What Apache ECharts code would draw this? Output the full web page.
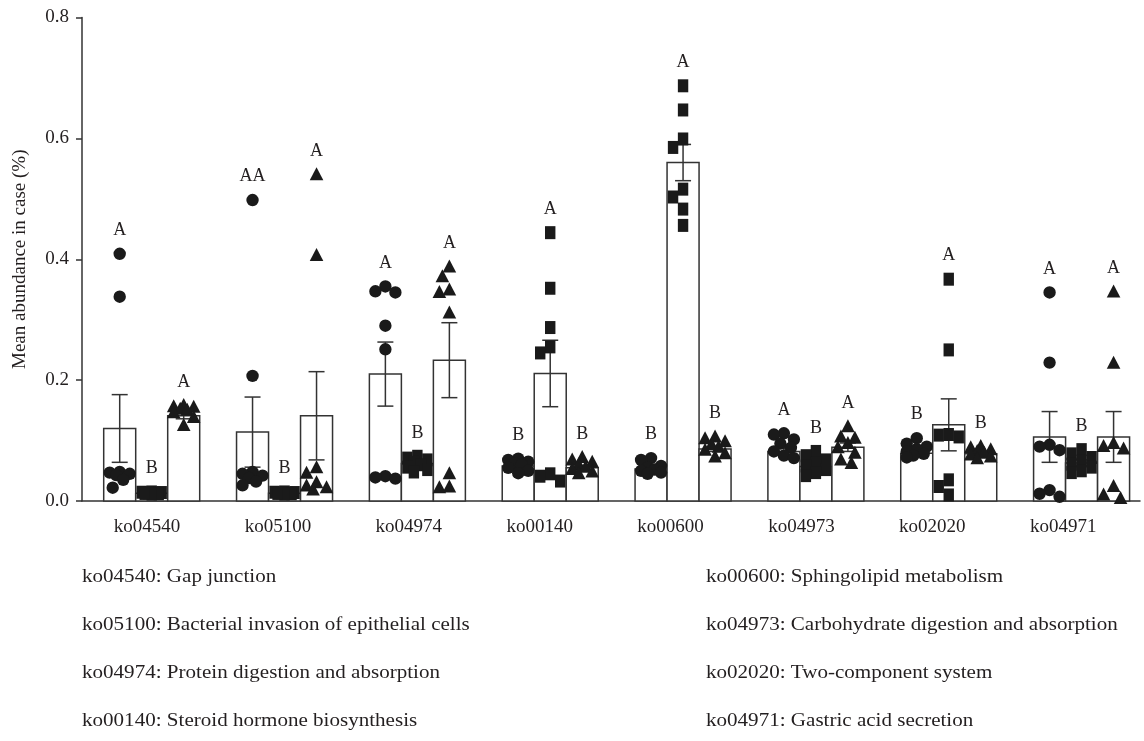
<!DOCTYPE html>
<html><head><meta charset="utf-8">
<script src="https://cdn.jsdelivr.net/npm/echarts@6/dist/echarts.min.js"></script>
<style>html,body{margin:0;padding:0;background:#fff}#c{width:1144px;height:741px}</style>
</head><body><div id="c"></div>
<script>
// ---------- data ----------
const categories = ['ko04540','ko05100','ko04974','ko00140','ko00600','ko04973','ko02020','ko04971'];

const circleMean = [0.120, 0.114, 0.210, 0.058, 0.053, 0.082, 0.079, 0.106];
const circleSem  = [0.056, 0.058, 0.053, 0.004, 0.003, 0.005, 0.004, 0.042];
const squareMean = [0.013, 0.013, 0.062, 0.211, 0.560, 0.057, 0.126, 0.063];
const squareSem  = [0.001, 0.001, 0.003, 0.055, 0.030, 0.005, 0.043, 0.005];
const triangleMean = [0.141, 0.141, 0.233, 0.055, 0.086, 0.089, 0.078, 0.106];
const triangleSem  = [0.005, 0.073, 0.062, 0.004, 0.004, 0.007, 0.003, 0.042];

const circlePoints = [
  [0.409, 0.338, 0.048, 0.047, 0.045, 0.043, 0.035, 0.022],
  [0.498, 0.207, 0.048, 0.045, 0.042, 0.038, 0.032, 0.026],
  [0.355, 0.347, 0.345, 0.290, 0.251, 0.041, 0.039, 0.037],
  [0.070, 0.068, 0.065, 0.062, 0.060, 0.055, 0.050, 0.046],
  [0.071, 0.068, 0.058, 0.055, 0.052, 0.050, 0.047, 0.045],
  [0.112, 0.110, 0.102, 0.095, 0.088, 0.082, 0.075, 0.071],
  [0.104, 0.095, 0.090, 0.086, 0.082, 0.078, 0.075, 0.072],
  [0.345, 0.229, 0.093, 0.090, 0.084, 0.018, 0.012, 0.007]
];
const squarePoints = [
  [0.015, 0.014, 0.0145, 0.013, 0.012, 0.0135, 0.0115, 0.0125],
  [0.015, 0.014, 0.0145, 0.013, 0.012, 0.0135, 0.0115, 0.0125],
  [0.074, 0.071, 0.068, 0.064, 0.060, 0.056, 0.052, 0.048],
  [0.444, 0.352, 0.287, 0.255, 0.245, 0.045, 0.041, 0.033],
  [0.687, 0.647, 0.599, 0.585, 0.516, 0.503, 0.483, 0.456],
  [0.082, 0.075, 0.068, 0.063, 0.058, 0.052, 0.047, 0.042],
  [0.367, 0.250, 0.110, 0.109, 0.106, 0.035, 0.024, 0.010],
  [0.085, 0.078, 0.072, 0.066, 0.061, 0.056, 0.050, 0.047]
];
const trianglePoints = [
  [0.158, 0.156, 0.155, 0.152, 0.150, 0.146, 0.138, 0.125],
  [0.540, 0.406, 0.055, 0.046, 0.030, 0.025, 0.022, 0.018],
  [0.387, 0.371, 0.349, 0.345, 0.311, 0.045, 0.023, 0.022],
  [0.072, 0.068, 0.064, 0.060, 0.056, 0.052, 0.048, 0.045],
  [0.106, 0.103, 0.098, 0.093, 0.089, 0.084, 0.078, 0.073],
  [0.123, 0.106, 0.104, 0.095, 0.088, 0.079, 0.068, 0.062],
  [0.090, 0.088, 0.085, 0.082, 0.079, 0.076, 0.073, 0.070],
  [0.346, 0.228, 0.095, 0.090, 0.086, 0.024, 0.010, 0.004]
];

const circleLetters   = ['A','AA','A','B','B','A','B','A'];
const squareLetters   = ['B','B','B','A','A','B','A','B'];
const triangleLetters = ['A','A','A','B','B','A','B','A'];

const yTicks = [0, 0.2, 0.4, 0.6, 0.8];

const legendLeft = [
  'ko04540: Gap junction',
  'ko05100: Bacterial invasion of epithelial cells',
  'ko04974: Protein digestion and absorption',
  'ko00140: Steroid hormone biosynthesis'
];
const legendRight = [
  'ko00600: Sphingolipid metabolism',
  'ko04973: Carbohydrate digestion and absorption',
  'ko02020: Two-component system',
  'ko04971: Gastric acid secretion'
];

// ---------- layout ----------
const FONT = '"Liberation Serif","Times New Roman",serif';
const TXT = '#231f20';
const INK = '#1a1a1a';
const LINE = '#333333';
const GRID_L = 82, GRID_T = 17.5, GRID_W = 1058, GRID_H = 483.5;
const G0 = 151.7, GSTEP = 132.84;          // pixel centre of first group, group spacing
const X_MIN = (GRID_L - G0) / GSTEP;
const X_MAX = (GRID_L + GRID_W - G0) / GSTEP;
const BAR_W = 32;
const Y_PX = GRID_H / 0.8;

const means = [circleMean, squareMean, triangleMean];
const sems = [circleSem, squareSem, triangleSem];
const pts = [circlePoints, squarePoints, trianglePoints];
const letters = [circleLetters, squareLetters, triangleLetters];

// deterministic beeswarm offsets (pixels)
function swarm(vals) {
  const order = vals.map((v, i) => i).sort((a, b) => vals[b] - vals[a]);
  const cands = [0, -7, 7, -10, 10, -3.5, 3.5];
  const placed = [];
  const out = new Array(vals.length).fill(0);
  order.forEach(i => {
    const y = vals[i] * Y_PX;
    let best = 0, bestD = -1;
    for (const c of cands) {
      let d = Infinity;
      for (const p of placed) d = Math.min(d, Math.hypot(p.dx - c, p.y - y));
      if (d >= 11) { best = c; bestD = d; break; }
      if (d > bestD) { bestD = d; best = c; }
    }
    placed.push({dx: best, y});
    out[i] = best;
  });
  return out;
}

const barData = [];
for (let s = 0; s < 3; s++) for (let g = 0; g < categories.length; g++)
  barData.push([g, s, means[s][g], sems[s][g]]);

function pointData(s) {
  const d = [];
  for (let g = 0; g < categories.length; g++) {
    const off = swarm(pts[s][g]);
    pts[s][g].forEach((v, k) => d.push([g, s, v, off[k]]));
  }
  return d;
}

const letterData = [];
for (let s = 0; s < 3; s++) for (let g = 0; g < categories.length; g++) {
  const top = Math.max(Math.max(...pts[s][g]), means[s][g] + sems[s][g]);
  letterData.push([g, s, top]);
}

function centre(api, g, s) { return api.coord([g, 0])[0] + (s - 1) * BAR_W; }

const shapes = [
  (cx, cy) => ({type: 'circle', shape: {cx, cy, r: 6.2}, style: {fill: INK}}),
  (cx, cy) => ({type: 'rect', shape: {x: cx - 5.2, y: cy - 6.5, width: 10.4, height: 13}, style: {fill: INK}}),
  (cx, cy) => ({type: 'polygon', shape: {points: [[cx, cy - 7.5], [cx + 6.8, cy + 5.5], [cx - 6.8, cy + 5.5]]}, style: {fill: INK}})
];

const series = [{
  type: 'custom', xAxisIndex: 0, yAxisIndex: 0, clip: false,
  data: barData, encode: {x: 0, y: 2},
  renderItem(params, api) {
    const g = api.value(0), s = api.value(1), m = api.value(2), e = api.value(3);
    const cx = centre(api, g, s);
    const y0 = api.coord([g, 0])[1];
    const ym = api.coord([g, m])[1];
    const yt = api.coord([g, m + e])[1];
    const yb = api.coord([g, Math.max(0, m - e)])[1];
    const ls = {stroke: LINE, lineWidth: 1.5};
    return {type: 'group', children: [
      {type: 'rect', shape: {x: cx - BAR_W / 2, y: ym, width: BAR_W, height: y0 - ym}, style: {fill: '#fff', stroke: LINE, lineWidth: 1.5}},
      {type: 'line', shape: {x1: cx, y1: yt, x2: cx, y2: yb}, style: ls},
      {type: 'line', shape: {x1: cx - 8, y1: yt, x2: cx + 8, y2: yt}, style: ls},
      {type: 'line', shape: {x1: cx - 8, y1: yb, x2: cx + 8, y2: yb}, style: ls}
    ]};
  }
}];
for (let s = 0; s < 3; s++) {
  series.push({
    type: 'custom', xAxisIndex: 0, yAxisIndex: 0, clip: false,
    data: pointData(s), encode: {x: 0, y: 2},
    renderItem(params, api) {
      const g = api.value(0), v = api.value(2), off = api.value(3);
      const cx = centre(api, g, s) + off;
      const cy = api.coord([g, v])[1];
      return shapes[s](cx, cy);
    }
  });
}
series.push({
  type: 'custom', xAxisIndex: 0, yAxisIndex: 0, clip: false,
  data: letterData, encode: {x: 0, y: 2},
  renderItem(params, api) {
    const g = api.value(0), s = api.value(1), t = api.value(2);
    const cx = centre(api, g, s);
    const cy = api.coord([g, t])[1] - 6.5 - 17;
    return {type: 'text', style: {x: cx, y: cy, text: letters[s][g], fill: TXT,
      font: '18px ' + FONT, textAlign: 'center', textVerticalAlign: 'middle'}};
  }
});
series.push({type: 'line', xAxisIndex: 1, yAxisIndex: 1, data: [], silent: true});

const graphic = [];
legendLeft.forEach((t, k) => graphic.push({type: 'text', x: 82, y: 577 + 48 * k, scaleX: 1.17,
  style: {text: t, fill: TXT, font: '18px ' + FONT, textVerticalAlign: 'middle'}}));
legendRight.forEach((t, k) => graphic.push({type: 'text', x: 706, y: 577 + 48 * k, scaleX: 1.17,
  style: {text: t, fill: TXT, font: '18px ' + FONT, textVerticalAlign: 'middle'}}));

const chart = echarts.init(document.getElementById('c'), null, {renderer: 'canvas'});
chart.setOption({
  animation: false,
  backgroundColor: '#fff',
  grid: [
    {left: GRID_L, top: GRID_T, width: GRID_W, height: GRID_H},
    {left: 81.6, top: GRID_T, width: 1047, height: GRID_H}
  ],
  xAxis: [
    {type: 'value', gridIndex: 0, min: X_MIN, max: X_MAX,
     axisLine: {show: true, onZero: false, lineStyle: {color: LINE, width: 1.5}},
     axisTick: {show: false}, axisLabel: {show: false}, splitLine: {show: false}},
    {type: 'category', gridIndex: 1, data: categories,
     axisLine: {show: false}, axisTick: {show: false}, splitLine: {show: false},
     axisLabel: {color: TXT, fontFamily: FONT, fontSize: 19, margin: 17}}
  ],
  yAxis: [
    {type: 'value', gridIndex: 0, min: yTicks[0], max: yTicks[yTicks.length - 1], interval: 0.2,
     axisLine: {show: true, onZero: false, lineStyle: {color: LINE, width: 1.5}},
     axisTick: {show: true, length: 6, lineStyle: {color: LINE, width: 1.5}},
     axisLabel: {color: TXT, fontFamily: FONT, fontSize: 19, margin: 13, formatter: v => v.toFixed(1)},
     splitLine: {show: false},
     name: 'Mean abundance in case (%)', nameLocation: 'middle', nameGap: 52,
     nameTextStyle: {color: TXT, fontFamily: FONT, fontSize: 19}},
    {type: 'value', gridIndex: 1, show: false, min: 0, max: 0.8}
  ],
  graphic,
  series
});
</script></body></html>
